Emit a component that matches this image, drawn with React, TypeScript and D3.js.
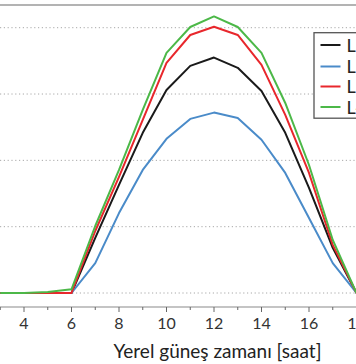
import React from "react";
import * as d3 from "d3";

const hours = [3, 4, 5, 6, 7, 8, 9, 10, 11, 12, 13, 14, 15, 16, 17, 18];
const seriesBlack = [0, 0, 0, 0, 166, 326, 483, 612, 685, 710, 679, 609, 483, 317, 136, 0];
const seriesBlue = [0, 0, 0, 0, 90, 241, 371, 465, 525, 544, 528, 462, 362, 226, 90, 0];
const seriesRed = [0, 0, 0, 0, 187, 350, 522, 694, 778, 803, 778, 688, 537, 362, 145, 0];
const seriesGreen = [0, 0, 3, 11, 202, 371, 552, 724, 802, 834, 802, 724, 573, 386, 160, 0];
const seriesNames = ["L1", "L2", "L3", "L4"];
const seriesColors = ["#1a1a1a", "#4a8bc9", "#e8272c", "#4cb848"];
const xMajorTicks = [4, 6, 8, 10, 12, 14, 16, 18];
const xMinorTicks = [3, 5, 7, 9, 11, 13, 15, 17];
const yGrid = [0, 200, 400, 600, 800];
const xTitle = "Yerel güneş zamanı [saat]";

const W = 356;
const H = 364;

export default function App() {
  const x = d3.scaleLinear().domain([4, 12]).range([24, 214]);
  const y = d3.scaleLinear().domain([0, 800]).range([293, 27.7]);
  const line = d3
    .line<number>()
    .x((_, i) => x(hours[i]))
    .y((d) => y(d));
  const all = [seriesBlack, seriesBlue, seriesRed, seriesGreen];
  const font = "Lato, 'Open Sans', sans-serif";
  const frameTop = 5;
  const frameBottom = 307;
  const legendYs = [45, 66.5, 86.5, 107];

  return (
    <div style={{ position: "fixed", left: 0, top: 0 }}>
      <svg width={W} height={H} style={{ display: "block", background: "#fff" }}>
        {yGrid.map((v) => (
          <line
            key={v}
            x1={0}
            x2={W}
            y1={y(v)}
            y2={y(v)}
            stroke="#a8a8a8"
            strokeWidth={1}
            strokeDasharray="1.2,2.6"
          />
        ))}
        <line x1={0} x2={W} y1={frameTop} y2={frameTop} stroke="#9a9a9a" strokeWidth={1.5} />
        <line x1={0} x2={W} y1={frameBottom} y2={frameBottom} stroke="#8a8a8a" strokeWidth={1.2} />
        {xMajorTicks.map((t) => (
          <g key={"M" + t}>
            <line x1={x(t)} x2={x(t)} y1={frameBottom} y2={frameBottom + 5} stroke="#666" strokeWidth={1} />
            <text
              x={x(t)}
              y={329}
              textAnchor="middle"
              fontFamily={font}
              fontSize={16}
              fill="#333"
            >
              {t}
            </text>
          </g>
        ))}
        {xMinorTicks.map((t) => (
          <line key={"m" + t} x1={x(t)} x2={x(t)} y1={frameBottom} y2={frameBottom + 3} stroke="#666" strokeWidth={1} />
        ))}
        {all.map((s, i) => (
          <path
            key={i}
            d={line(s) || ""}
            fill="none"
            stroke={seriesColors[i]}
            strokeWidth={2}
            strokeLinejoin="round"
          />
        ))}
        <rect x={314} y={32.7} width={60} height={85.5} fill="#fff" stroke="#555" strokeWidth={1.3} />
        {seriesNames.map((n, i) => (
          <g key={n}>
            <line x1={320.5} x2={340.5} y1={legendYs[i]} y2={legendYs[i]} stroke={seriesColors[i]} strokeWidth={2} />
            <text x={346.5} y={legendYs[i] + 6.5} fontFamily={font} fontSize={18} fill="#222">
              {n}
            </text>
          </g>
        ))}
        <text x={217.5} y={358} textAnchor="middle" fontFamily={font} fontSize={19} fill="#222">
          {xTitle}
        </text>
      </svg>
    </div>
  );
}
